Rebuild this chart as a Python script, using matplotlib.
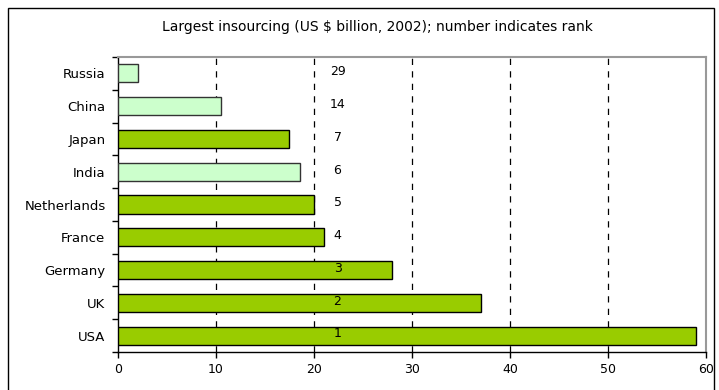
import matplotlib
matplotlib.use("Agg")
import matplotlib.pyplot as plt
from matplotlib.patches import Rectangle
import numpy as np

plt.rcParams["font.family"] = ["DejaVu Sans"]

countries = ["Russia", "China", "Japan", "India", "Netherlands", "France", "Germany", "UK", "USA"]
values = [2.0, 10.5, 17.4, 18.6, 20.0, 21.0, 28.0, 37.0, 59.0]
ranks = ["29", "14", "7", "6", "5", "4", "3", "2", "1"]
highlight = [True, True, False, True, False, False, False, False, False]
x_ticks = [0, 10, 20, 30, 40, 50, 60]

dark_green = "#99CC00"
light_green = "#CCFFCC"

fig = plt.figure(figsize=(7.19, 3.90), dpi=100)
fig.patch.set_facecolor("white")

# outer frame
fig.patches.append(Rectangle((8 / 719, -0.05), (714 - 8) / 719, (390 - 8) / 390 + 0.05,
                             transform=fig.transFigure, fill=False, edgecolor="black",
                             linewidth=1.0, zorder=0))

ax = fig.add_axes([118 / 719, (390 - 352) / 390, (706 - 118) / 719, (352 - 57) / 390])

y = np.arange(len(countries))
colors = [light_green if h else dark_green for h in highlight]
edges = ["#333333" if h else "black" for h in highlight]
ax.barh(y, values, height=0.55, color=colors, edgecolor=edges, linewidth=1.0, zorder=3)

for yi, r in zip(y, ranks):
    ax.text(22.4, yi - 0.05, r, ha="center", va="center", fontsize=9, color="black", zorder=4)

ax.set_xlim(0, 60)
ax.set_ylim(len(countries) - 0.5, -0.5)
ax.set_xticks(x_ticks)
ax.set_xticklabels([str(t) for t in x_ticks], fontsize=9)

ax.set_yticks(y)
ax.set_yticklabels(countries, fontsize=9.5)
ax.tick_params(axis="y", which="major", length=0, pad=9)
ax.set_yticks(np.arange(-0.5, len(countries), 1.0), minor=True)
ax.tick_params(axis="y", which="minor", length=4, width=1, direction="out")
ax.tick_params(axis="x", which="major", length=4, width=1, direction="out", pad=4)

for gx in x_ticks[1:-1]:
    ax.axvline(gx, color="black", linestyle=(0, (5, 5)), linewidth=0.9, zorder=1)

ax.spines["left"].set_color("black")
ax.spines["bottom"].set_color("black")
ax.spines["left"].set_linewidth(1.0)
ax.spines["bottom"].set_linewidth(1.0)
ax.spines["top"].set_color("#999999")
ax.spines["right"].set_color("#999999")
ax.spines["top"].set_linewidth(1.5)
ax.spines["right"].set_linewidth(1.5)

fig.text((160 + 595) / 2 / 719, 1 - 27 / 390, "Largest insourcing (US $ billion, 2002); number indicates rank",
         ha="center", va="center", fontsize=10)

fig.savefig("out.png", dpi=100, facecolor="white")
